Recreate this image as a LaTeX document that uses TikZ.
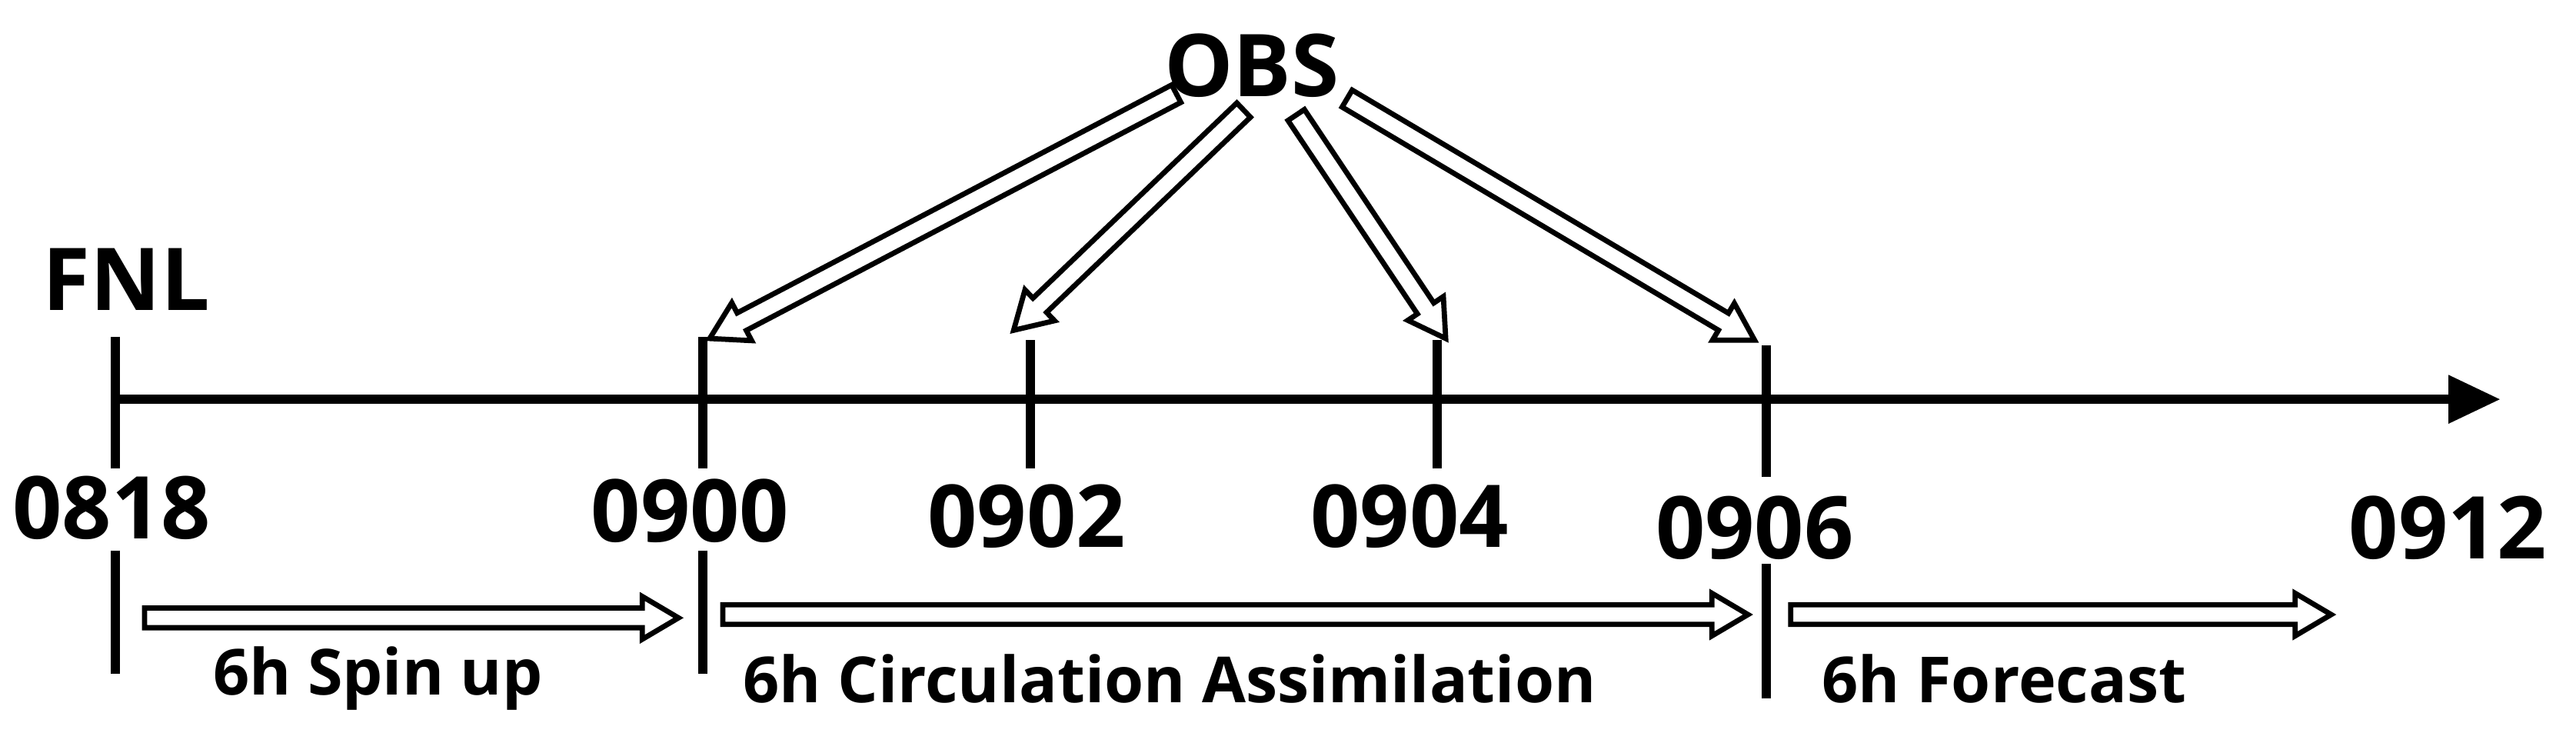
\documentclass[tikz,border=0pt]{standalone}
\usepackage{fontspec}
\setmainfont{Open Sans}
\usetikzlibrary{calc,arrows.meta}
\tikzset{
  axisline/.style={line width=1.6pt,-{Triangle[length=9pt,width=8pt]}},
  tick/.style={line width=1.6pt},
  big/.style={font=\fontsize{15}{17}\selectfont\bfseries,inner sep=0pt},
  small/.style={font=\fontsize{11}{13}\selectfont\bfseries,inner sep=0pt},
  hollow/.style={draw=black,fill=white,line width=0.9pt,line join=miter}
}
\newcommand{\hollowarr}[2]{%
  \path ($(#2)!0.22cm!(#1)$) coordinate (hC);
  \draw[hollow] ($(#1)!0.06cm!90:(#2)$) -- ($(hC)!0.06cm!-90:(#1)$) -- ($(hC)!0.13cm!-90:(#1)$) -- (#2)
   -- ($(hC)!0.13cm!90:(#1)$) -- ($(hC)!0.06cm!90:(#1)$) -- ($(#1)!0.06cm!-90:(#2)$) -- cycle;}
\begin{document}
\begin{tikzpicture}[x=0.01cm,y=-0.01cm]
\useasboundingbox (0,0) rectangle (1568,452);
\coordinate (a0) at (70,243); \coordinate (a1) at (1522,243);
\draw[axisline] (a0) -- (a1);
\foreach \n/\x/\t/\b in {t1/70/205/285,t2/428/205/285,t3/627/207/285,t4/875/207/285,t5/1075/210/290}{
  \draw[tick] (\x,\t) coordinate (\n a) -- (\x,\b) coordinate (\n b);}
\foreach \n/\x/\t/\b in {l1/70/335/410,l2/428/335/410,l3/1075/343/425}{
  \draw[tick] (\x,\t) coordinate (\n a) -- (\x,\b) coordinate (\n b);}
\node[big] (fnl) at (77,170) {FNL};
\node[big] (obs) at (762,40) {OBS};
\node[big] (d1) at (68,309) {0818};
\node[big] (d2) at (420,311) {0900};
\node[big] (d3) at (625,314) {0902};
\node[big] (d4) at (858,314) {0904};
\node[big] (d5) at (1068,321) {0906};
\node[big] (d6) at (1490,321) {0912};
\node[small] (s1) at (230,413) {6h Spin up};
\node[small] (s2) at (712,413) {6h Circulation Assimilation};
\node[small] (s3) at (1220,413) {6h Forecast};
\coordinate (p1a) at (88,376); \coordinate (p1b) at (413,376);
\coordinate (p2a) at (440,374); \coordinate (p2b) at (1064,374);
\coordinate (p3a) at (1090,374); \coordinate (p3b) at (1419,374);
\hollowarr{p1a}{p1b}\hollowarr{p2a}{p2b}\hollowarr{p3a}{p3b}
\coordinate (o1a) at (716,57); \coordinate (o1b) at (432,206);
\coordinate (o2a) at (757,67); \coordinate (o2b) at (617,201);
\coordinate (o3a) at (789,70); \coordinate (o3b) at (880,206);
\coordinate (o4a) at (820,60); \coordinate (o4b) at (1068,207);
\hollowarr{o1a}{o1b}\hollowarr{o2a}{o2b}\hollowarr{o3a}{o3b}\hollowarr{o4a}{o4b}
\end{tikzpicture}
\end{document}
